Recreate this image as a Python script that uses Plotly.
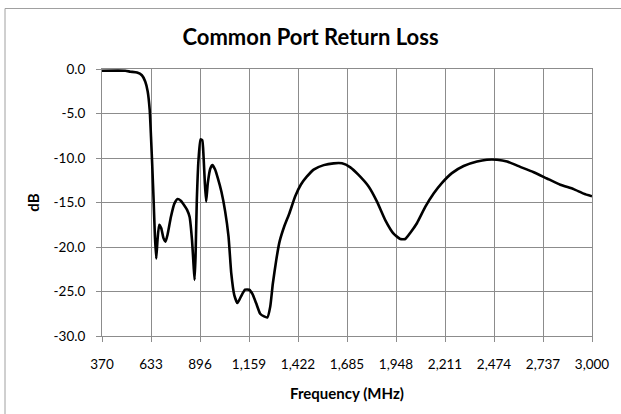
import plotly.graph_objects as go

freq_mhz = [370, 495, 522, 558, 584, 602, 615, 626, 633, 640, 647, 654, 661, 668, 677, 688,
            700, 711, 722, 740, 759, 776, 793, 811, 826, 840, 853, 862, 867, 872, 879, 888,
            899, 908, 915, 922, 929, 938, 951, 963, 977, 992, 1011, 1031, 1049, 1064, 1080,
            1097, 1115, 1138, 1160, 1178, 1197, 1219, 1240, 1258, 1273, 1287, 1305, 1323,
            1348, 1376, 1407, 1437, 1469, 1506, 1560, 1613, 1658, 1703, 1747, 1801, 1846,
            1891, 1935, 1971, 1998, 2025, 2061, 2105, 2150, 2195, 2248, 2311, 2383, 2436,
            2490, 2544, 2615, 2687, 2758, 2830, 2901, 2955, 3000]
return_loss_db = [-0.2, -0.2, -0.3, -0.4, -0.7, -1.4, -2.5, -4.6, -7.6, -11.0, -14.7, -18.8,
                  -21.3, -19.2, -17.5, -17.9, -19.0, -19.4, -18.6, -16.6, -15.1, -14.6, -14.8,
                  -15.3, -15.8, -16.6, -19.2, -22.2, -23.7, -21.1, -14.7, -10.2, -7.9, -8.0,
                  -9.8, -12.8, -14.9, -12.8, -11.2, -10.8, -11.3, -12.3, -13.8, -16.0, -18.8,
                  -23.0, -25.4, -26.3, -25.6, -24.8, -24.8, -25.3, -26.3, -27.5, -27.8, -27.9,
                  -26.7, -24.1, -21.5, -19.4, -17.7, -16.2, -14.3, -13.0, -12.1, -11.3, -10.8,
                  -10.6, -10.6, -11.05, -11.9, -13.2, -14.9, -17.0, -18.5, -19.1, -19.1, -18.4,
                  -17.3, -15.5, -14.0, -12.8, -11.7, -10.9, -10.4, -10.2, -10.2, -10.4, -11.0,
                  -11.6, -12.3, -13.0, -13.5, -14.0, -14.3]

x_ticks = [370, 633, 896, 1159, 1422, 1685, 1948, 2211, 2474, 2737, 3000]
x_tick_labels = ["370", "633", "896", "1,159", "1,422", "1,685", "1,948", "2,211", "2,474", "2,737", "3,000"]
y_ticks = [0, -5, -10, -15, -20, -25, -30]
y_tick_labels = ["0.0", "-5.0", "-10.0", "-15.0", "-20.0", "-25.0", "-30.0"]

FONT = "Lato, Carlito, Calibri, Open Sans, sans-serif"
GRID = "#8c8c8c"

fig = go.Figure()
fig.add_trace(go.Scatter(
    x=freq_mhz, y=return_loss_db, mode="lines",
    line=dict(color="black", width=2.6, shape="spline", smoothing=0.5),
    showlegend=False, hoverinfo="x+y",
))

fig.update_layout(
    width=621, height=414,
    margin=dict(l=102, r=29, t=69, b=78),
    paper_bgcolor="white", plot_bgcolor="white",
    font=dict(family=FONT, size=13.5, color="black"),
    title=dict(text="<b>Common Port Return Loss</b>", x=0.5, xanchor="center",
               y=1 - 37 / 414, yanchor="middle",
               font=dict(family=FONT, size=22, color="black")),
    xaxis=dict(
        range=[370, 3000], tickmode="array", tickvals=x_ticks, ticktext=x_tick_labels,
        showgrid=True, gridcolor=GRID, gridwidth=1,
        showline=True, linecolor=GRID, linewidth=1, mirror=True,
        ticks="outside", ticklen=5, tickcolor=GRID, ticklabelstandoff=11,
        tickfont=dict(family=FONT, size=13.5),
        title=dict(text="<b>Frequency (MHz)</b>", font=dict(family=FONT, size=15), standoff=17),
        zeroline=False,
    ),
    yaxis=dict(
        range=[-30, 0], tickmode="array", tickvals=y_ticks, ticktext=y_tick_labels,
        showgrid=True, gridcolor=GRID, gridwidth=1,
        showline=True, linecolor=GRID, linewidth=1, mirror=True,
        ticks="outside", ticklen=5, tickcolor=GRID, ticklabelstandoff=8,
        tickfont=dict(family=FONT, size=13.5),
        title=dict(text="<b>dB</b>", font=dict(family=FONT, size=15), standoff=10),
        zeroline=False,
    ),
    shapes=[dict(type="rect", xref="paper", yref="paper",
                 x0=(5 - 102) / 490, x1=(640 - 102) / 490,
                 y0=(336 - 440) / 267, y1=(336 - 8.5) / 267,
                 line=dict(color="#a0a0a0", width=1), fillcolor="rgba(0,0,0,0)", layer="above")],
)

fig.write_html("out.html", config={"displayModeBar": False},
               post_script="document.body.style.margin='0';")
